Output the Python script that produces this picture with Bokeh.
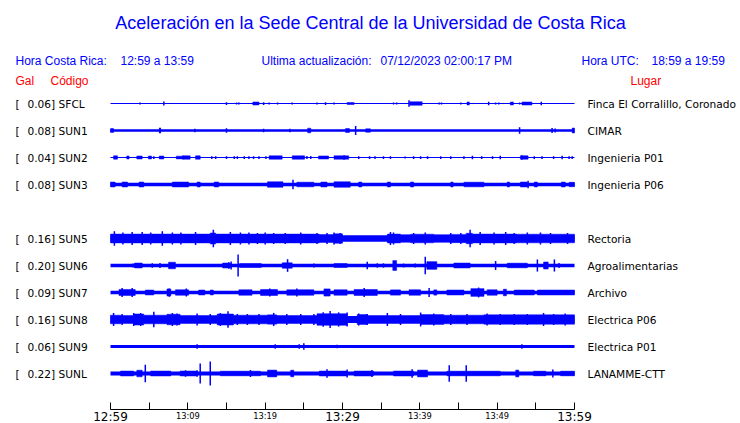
from bokeh.plotting import figure
from bokeh.models import Range1d, LinearAxis, FixedTicker, ColumnDataSource
from bokeh.core.properties import value
from bokeh.embed import file_html
from bokeh.resources import INLINE

# ---------------- data ----------------
TITLE = "Aceleración en la Sede Central de la Universidad de Costa Rica"
CR_LABEL, CR_RANGE = "Hora Costa Rica:", "12:59 a 13:59"
UPDATE_LABEL, UPDATE_TIME = "Ultima actualización:", "07/12/2023 02:00:17 PM"
UTC_LABEL, UTC_RANGE = "Hora UTC:", "18:59 a 19:59"
HEAD_GAL, HEAD_CODE, HEAD_PLACE = "Gal", "Código", "Lugar"

CODES = ["SFCL", "SUN1", "SUN2", "SUN3", "SUN5", "SUN6", "SUN7", "SUN8", "SUN9", "SUNL"]
PEAK_GAL = [0.06, 0.08, 0.04, 0.08, 0.16, 0.20, 0.09, 0.16, 0.06, 0.22]
PLACES = ["Finca El Corralillo, Coronado", "CIMAR", "Ingenieria P01", "Ingenieria P06",
          "Rectoria", "Agroalimentarias", "Archivo", "Electrica P06", "Electrica P01",
          "LANAMME-CTT"]
ROW_SLOT = [0, 1, 2, 3, 5, 6, 7, 8, 9, 10]   # slot 4 (SUN4) is empty

# continuous background level of each trace (gal, half amplitude)
BASE_GAL = [0.009, 0.024, 0.009, 0.03, 0.06, 0.03, 0.033, 0.065, 0.027, 0.036]

# bursts: (start minute, end minute, half amplitude in gal)
BURSTS = {
    "SFCL": [(18.4, 19.2, 0.027), (30.6, 31.5, 0.018), (38.7, 40.3, 0.032), (46.1, 46.4, 0.027),
             (51.7, 52.1, 0.027), (53.2, 54.5, 0.027)],
    "SUN1": [(0.0, 0.4, 0.035), (6.3, 6.5, 0.04), (25.5, 25.9, 0.042), (30.4, 30.9, 0.036),
             (33.0, 33.6, 0.031), (59.7, 60.0, 0.045)],
    "SUN2": [(0.4, 0.9, 0.031), (2.1, 2.4, 0.027), (3.4, 4.1, 0.027), (4.9, 5.3, 0.027),
             (6.3, 6.9, 0.027), (8.5, 9.5, 0.025), (9.3, 10.3, 0.031), (11.0, 11.6, 0.031),
             (20.5, 22.2, 0.031), (23.5, 25.1, 0.031), (26.9, 28.2, 0.028), (28.9, 30.8, 0.031),
             (53.0, 54.0, 0.031)],
    "SUN3": [(0.0, 0.6, 0.045), (1.5, 2.2, 0.045), (3.7, 4.3, 0.045), (8.0, 10.1, 0.045),
             (11.2, 11.6, 0.045), (13.4, 14.0, 0.045), (20.3, 22.3, 0.05), (24.1, 26.3, 0.042),
             (27.2, 28.0, 0.045), (28.9, 31.0, 0.05), (32.1, 32.5, 0.045), (35.8, 36.2, 0.045),
             (38.8, 39.2, 0.045), (44.0, 44.3, 0.045), (45.7, 48.3, 0.042), (51.3, 51.6, 0.045),
             (53.0, 53.9, 0.045), (54.8, 55.2, 0.045), (58.3, 58.8, 0.045), (59.3, 60.0, 0.04)],
    "SUN5": [(0.0, 12.9, 0.08), (12.9, 13.6, 0.1), (13.6, 27.0, 0.08), (27.0, 28.9, 0.072),
             (28.9, 30.0, 0.085), (35.8, 37.5, 0.08), (37.5, 38.8, 0.07), (38.8, 41.8, 0.078),
             (41.8, 43.9, 0.07), (43.9, 46.0, 0.075), (46.0, 46.8, 0.095), (46.8, 52.5, 0.08),
             (52.5, 60.0, 0.078)],
    "SUN6": [(3.1, 4.1, 0.045), (7.5, 8.4, 0.06), (14.5, 15.5, 0.045), (16.7, 19.5, 0.036),
             (22.2, 23.5, 0.05), (28.9, 30.6, 0.036), (36.5, 37.0, 0.09), (40.9, 42.2, 0.07),
             (44.4, 46.5, 0.045), (51.3, 53.9, 0.042), (56.0, 56.6, 0.064)],
    "SUN7": [(1.1, 3.2, 0.055), (4.5, 5.6, 0.045), (7.3, 7.8, 0.065), (8.4, 10.1, 0.05),
             (11.4, 12.2, 0.045), (12.9, 13.3, 0.045), (16.6, 18.3, 0.05), (19.4, 21.6, 0.055),
             (22.8, 26.3, 0.05), (27.6, 28.4, 0.065), (28.9, 30.6, 0.05), (31.5, 34.5, 0.055),
             (36.2, 37.5, 0.048), (38.6, 40.1, 0.05), (41.8, 42.2, 0.048), (43.5, 45.7, 0.045),
             (46.6, 48.3, 0.07), (48.7, 50.0, 0.05), (50.8, 51.2, 0.06), (52.2, 54.8, 0.045),
             (55.2, 60.0, 0.045)],
    "SUN8": [(0.0, 1.3, 0.078), (1.3, 3.0, 0.072), (3.0, 4.3, 0.1), (4.3, 7.3, 0.078),
             (7.3, 9.0, 0.095), (9.0, 13.8, 0.072), (13.8, 15.9, 0.1), (15.9, 20.3, 0.078),
             (20.3, 21.5, 0.085), (21.5, 26.7, 0.072), (26.7, 30.6, 0.105), (31.9, 33.2, 0.09),
             (33.2, 40.1, 0.072), (40.1, 43.1, 0.09), (43.1, 48.3, 0.078), (48.3, 55.0, 0.085),
             (55.0, 60.0, 0.085)],
    "SUN9": [],
    "SUNL": [(1.3, 3.0, 0.045), (3.4, 4.1, 0.06), (5.2, 7.8, 0.045), (9.0, 11.2, 0.045),
             (14.2, 19.4, 0.042), (20.3, 21.5, 0.062), (23.3, 23.7, 0.06), (27.0, 30.6, 0.045),
             (31.5, 34.0, 0.045), (36.6, 39.2, 0.045), (39.7, 41.0, 0.062), (43.5, 50.4, 0.042),
             (52.4, 52.8, 0.062), (54.7, 56.3, 0.042), (58.2, 60.0, 0.042)],
}

# isolated spikes: (minute, half amplitude in gal)
SPIKES = {
    "SFCL": [(3.8, 0.02), (6.9, 0.035), (15.0, 0.025), (16.3, 0.02), (16.6, 0.02), (19.8, 0.025),
             (20.5, 0.02), (21.6, 0.018), (23.5, 0.02), (26.7, 0.018), (27.8, 0.025), (28.9, 0.018),
             (36.6, 0.02), (37.0, 0.02), (38.6, 0.06), (42.5, 0.018), (42.8, 0.018), (45.3, 0.02),
             (48.9, 0.03), (49.8, 0.02), (50.2, 0.02), (52.9, 0.02), (55.7, 0.03)],
    "SUN1": [(6.4, 0.05), (10.9, 0.031), (15.0, 0.042), (19.8, 0.031), (23.2, 0.031), (31.7, 0.08),
             (52.9, 0.06), (57.1, 0.045), (57.5, 0.036)],
    "SUN2": [(5.6, 0.025), (13.1, 0.025), (13.6, 0.025), (15.0, 0.025), (16.0, 0.025), (16.4, 0.025),
             (17.3, 0.025), (17.9, 0.025), (18.5, 0.025), (19.2, 0.025), (20.1, 0.025), (25.4, 0.027),
             (25.9, 0.027), (30.2, 0.042), (32.1, 0.025), (33.5, 0.025), (34.2, 0.025), (35.3, 0.025),
             (36.2, 0.025), (38.1, 0.02), (39.2, 0.025), (40.1, 0.025), (41.0, 0.025), (42.7, 0.025),
             (44.0, 0.025), (45.7, 0.025), (46.8, 0.031), (48.0, 0.025), (49.4, 0.025), (50.4, 0.031),
             (53.2, 0.042), (54.8, 0.025), (55.8, 0.025), (57.3, 0.025), (58.4, 0.031), (59.3, 0.025),
             (59.7, 0.025)],
    "SUN3": [(23.6, 0.085), (54.0, 0.07)],
    "SUN5": [(0.5, 0.13), (1.6, 0.11), (2.8, 0.12), (4.1, 0.12), (5.2, 0.11), (6.7, 0.13),
             (8.0, 0.11), (9.1, 0.11), (11.0, 0.12), (13.3, 0.16), (15.5, 0.12), (16.8, 0.11),
             (17.9, 0.11), (19.0, 0.1), (20.0, 0.11), (21.1, 0.1), (22.6, 0.1), (24.6, 0.11),
             (26.7, 0.1), (28.0, 0.1), (28.9, 0.11), (29.7, 0.1), (36.2, 0.12), (36.6, 0.11),
             (39.2, 0.1), (40.7, 0.11), (44.0, 0.1), (45.3, 0.1), (46.5, 0.16), (47.8, 0.12),
             (49.6, 0.11), (51.1, 0.12), (52.2, 0.1), (53.9, 0.11), (55.6, 0.11), (56.9, 0.1),
             (59.1, 0.1)],
    "SUN6": [(2.9, 0.035), (5.4, 0.042), (6.4, 0.045), (15.3, 0.06), (15.6, 0.073), (16.5, 0.20),
             (22.9, 0.115), (26.3, 0.036), (33.2, 0.067), (34.5, 0.04), (35.3, 0.04), (37.9, 0.036),
             (39.4, 0.036), (40.7, 0.16), (49.8, 0.082), (55.2, 0.11), (57.4, 0.11), (58.0, 0.045)],
    "SUN7": [(1.5, 0.082), (2.8, 0.08), (7.6, 0.075), (9.8, 0.073), (20.6, 0.073), (24.1, 0.073),
             (32.8, 0.082), (41.2, 0.082), (47.6, 0.09)],
    "SUN8": [(0.4, 0.12), (1.5, 0.1), (3.0, 0.12), (3.9, 0.12), (5.6, 0.14), (8.0, 0.12),
             (8.6, 0.11), (11.2, 0.11), (12.9, 0.1), (14.2, 0.12), (15.2, 0.15), (16.4, 0.1),
             (17.7, 0.1), (19.2, 0.1), (21.1, 0.12), (22.8, 0.1), (24.6, 0.1), (26.3, 0.1),
             (27.5, 0.13), (28.4, 0.155), (29.5, 0.13), (30.6, 0.127), (32.1, 0.11), (33.2, 0.1),
             (35.8, 0.118), (37.5, 0.1), (40.1, 0.127), (41.8, 0.11), (44.0, 0.1), (46.1, 0.1),
             (48.7, 0.11), (50.4, 0.1), (52.2, 0.1), (53.9, 0.1), (56.0, 0.118), (57.3, 0.1),
             (58.8, 0.11)],
    "SUN9": [(11.2, 0.042), (21.3, 0.042), (24.4, 0.042), (25.0, 0.06), (29.3, 0.031), (53.2, 0.042)],
    "SUNL": [(4.5, 0.16), (9.7, 0.06), (11.2, 0.06), (11.6, 0.18), (12.9, 0.22), (18.1, 0.064),
             (28.0, 0.078), (30.6, 0.073), (33.8, 0.064), (39.0, 0.078), (43.8, 0.15), (46.0, 0.15),
             (57.2, 0.073)],
}

TICK_MINUTES = [0, 5, 10, 15, 20, 25, 30, 35, 40, 45, 50, 55, 60]
SMALL_TICK_LABELS = {10: "13:09", 20: "13:19", 40: "13:39", 50: "13:49"}
BIG_TICK_LABELS = {0: "12:59", 30: "13:29", 60: "13:59"}
WINDOW_MIN = 60

# ---------------- layout / style ----------------
W, H = 740, 423
PX_PER_MIN = 464.0 / WINDOW_MIN      # trace area 110..574 px
TRACE_X0 = 110
ROW_Y0, ROW_DY = 103, 27             # vertical position of first trace, spacing
AXIS_Y = 409
GAL_PX = 55.0                        # pixels per gal
BLUE = "#0000ff"
RED = "#ff0000"
HEAD_FONT = "Liberation Sans"
LAB_FONT = "DejaVu Sans"

x_start = (0 - TRACE_X0) / PX_PER_MIN
x_end = (W - TRACE_X0) / PX_PER_MIN

p = figure(width=W, height=H, output_backend="svg", toolbar_location=None,
           x_range=Range1d(x_start, x_end), y_range=Range1d(H, 0),
           x_axis_type=None, y_axis_type=None,
           min_border_left=0, min_border_right=0, min_border_top=0, min_border_bottom=0)
p.outline_line_color = None
p.background_fill_color = "white"
p.border_fill_color = "white"
p.extra_x_ranges = {"px": Range1d(0, W)}

# ---- traces ----
base = dict(x0=[], x1=[], y=[], lw=[])
bq = dict(left=[], right=[], top=[], bottom=[])
sp = dict(x=[], y0=[], y1=[])
for code, slot, b in zip(CODES, ROW_SLOT, BASE_GAL):
    yc = ROW_Y0 + ROW_DY * slot
    base["x0"].append(0); base["x1"].append(WINDOW_MIN); base["y"].append(yc)
    base["lw"].append(max(1.0, 2 * b * GAL_PX))
    for t0, t1, a in BURSTS[code]:
        bq["left"].append(t0); bq["right"].append(t1)
        bq["top"].append(yc - a * GAL_PX); bq["bottom"].append(yc + a * GAL_PX)
    for t, a in SPIKES[code]:
        sp["x"].append(t); sp["y0"].append(yc - a * GAL_PX); sp["y1"].append(yc + a * GAL_PX)

p.segment(x0="x0", y0="y", x1="x1", y1="y", line_width="lw", line_color=BLUE,
          line_cap="butt", source=ColumnDataSource(base))
p.quad(left="left", right="right", top="top", bottom="bottom", fill_color=BLUE,
       line_color=BLUE, line_width=0.5, source=ColumnDataSource(bq))
p.segment(x0="x", y0="y0", x1="x", y1="y1", line_width=1.5, line_color=BLUE,
          line_cap="butt", source=ColumnDataSource(sp))

# ---- texts ----
def txt(xs, ys, texts, size, color, font, align="left"):
    p.text(x=xs, y=ys, text=texts, x_range_name="px", text_font=value(font),
           text_font_size=size, text_color=color, text_align=align, text_baseline="middle")

txt([370], [22], [TITLE], "18px", BLUE, HEAD_FONT, "center")
txt([15, 120, 261, 380, 581, 651], [60] * 6,
    [CR_LABEL, CR_RANGE, UPDATE_LABEL, UPDATE_TIME, UTC_LABEL, UTC_RANGE], "12px", BLUE, HEAD_FONT)
txt([15, 50, 630], [80] * 3, [HEAD_GAL, HEAD_CODE, HEAD_PLACE], "12px", RED, HEAD_FONT)

ys = [ROW_Y0 + ROW_DY * s for s in ROW_SLOT]
txt([15] * len(CODES), ys, ["["] * len(CODES), "10.6px", "black", LAB_FONT)
txt([27] * len(CODES), ys, [f"{g:.2f}] {c}" for g, c in zip(PEAK_GAL, CODES)], "10.6px", "black", LAB_FONT)
txt([587] * len(CODES), ys, PLACES, "10.6px", "black", LAB_FONT)

# ---- time axis (drawn at a fixed position inside the canvas) ----
def time_axis(labels, size, standoff, draw_line):
    ax = LinearAxis(ticker=FixedTicker(ticks=TICK_MINUTES), bounds=(0, WINDOW_MIN),
                    fixed_location=AXIS_Y)
    ax.major_tick_in = 7
    ax.major_tick_out = 0
    ax.minor_tick_line_color = None
    ax.axis_line_color = "black" if draw_line else None
    ax.major_tick_line_color = "black" if draw_line else None
    ax.major_label_overrides = {m: labels.get(m, "") for m in TICK_MINUTES}
    ax.major_label_text_font = LAB_FONT
    ax.major_label_text_font_style = "normal"
    ax.major_label_text_font_size = size
    ax.major_label_text_color = "black"
    ax.major_label_standoff = standoff
    p.add_layout(ax, "below")

time_axis(SMALL_TICK_LABELS, "8.3px", 1, True)
time_axis(BIG_TICK_LABELS, "12px", 0, False)

open("out.html", "w").write(file_html(p, INLINE))
